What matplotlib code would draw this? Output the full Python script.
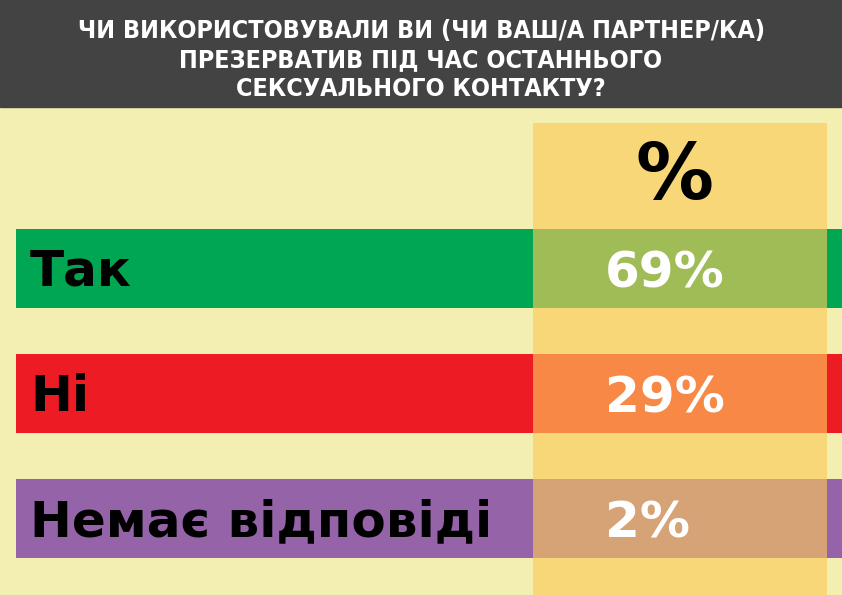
import matplotlib
matplotlib.use("Agg")
import matplotlib.pyplot as plt
from matplotlib.patches import Rectangle
import numpy as np

# data
categories = ["Так", "Ні", "Немає відповіді"]
values = [69, 29, 2]
colors = ["#00A651", "#ED1C24", "#9563A8"]
title = "ЧИ ВИКОРИСТОВУВАЛИ ВИ (ЧИ ВАШ/А ПАРТНЕР/КА)\nПРЕЗЕРВАТИВ ПІД ЧАС ОСТАННЬОГО\nСЕКСУАЛЬНОГО КОНТАКТУ?"
col_header = "%"

W, H = 842, 595
fig = plt.figure(figsize=(W / 100, H / 100), dpi=100)
fig.patch.set_facecolor("#F2EFB0")
ax = fig.add_axes([0, 0, 1, 1])
ax.set_facecolor("#F2EFB0")

# rows every 125px, first row centre at 269px
row_px, first_px = 125, 269
ax.set_xlim(0, W)
ax.set_ylim((H - first_px) / row_px, -first_px / row_px)
ax.axis("off")

y = np.arange(len(categories))
ax.barh(y, W - 16, left=16, height=79 / row_px, color=colors, zorder=2)

# header band (axes coords)
ax.add_patch(Rectangle((0, 1 - 107 / H), 1, 107 / H, transform=ax.transAxes,
                       color="#434343", zorder=5))
ax.text(0.5, 1 - 60 / H, title, transform=ax.transAxes, ha="center", va="center",
        color="white", fontsize=18, fontweight="bold", fontstretch="condensed",
        family="DejaVu Sans", linespacing=1.25, zorder=6)

# highlighted percentage column
ax.add_patch(Rectangle((533 / W, 0), (827 - 533) / W, 1 - 123 / H, transform=ax.transAxes,
                       facecolor=(253 / 255, 201 / 255, 90 / 255), alpha=0.63,
                       edgecolor="none", zorder=3))
ax.text(675 / W, 1 - 199 / H, col_header, transform=ax.transAxes, ha="center", va="baseline",
        fontsize=56, fontweight="heavy", color="black", zorder=4)

for yi, cat, v in zip(y, categories, values):
    ax.text(30, yi + 17 / row_px, cat, ha="left", va="baseline", fontsize=36,
            fontweight="heavy", color="black", zorder=4)
    ax.text(605, yi + 19 / row_px, f"{v}%", ha="left", va="baseline", fontsize=36,
            fontweight="heavy", color="white", zorder=4)

fig.savefig("out.png", dpi=100, facecolor=fig.get_facecolor())
